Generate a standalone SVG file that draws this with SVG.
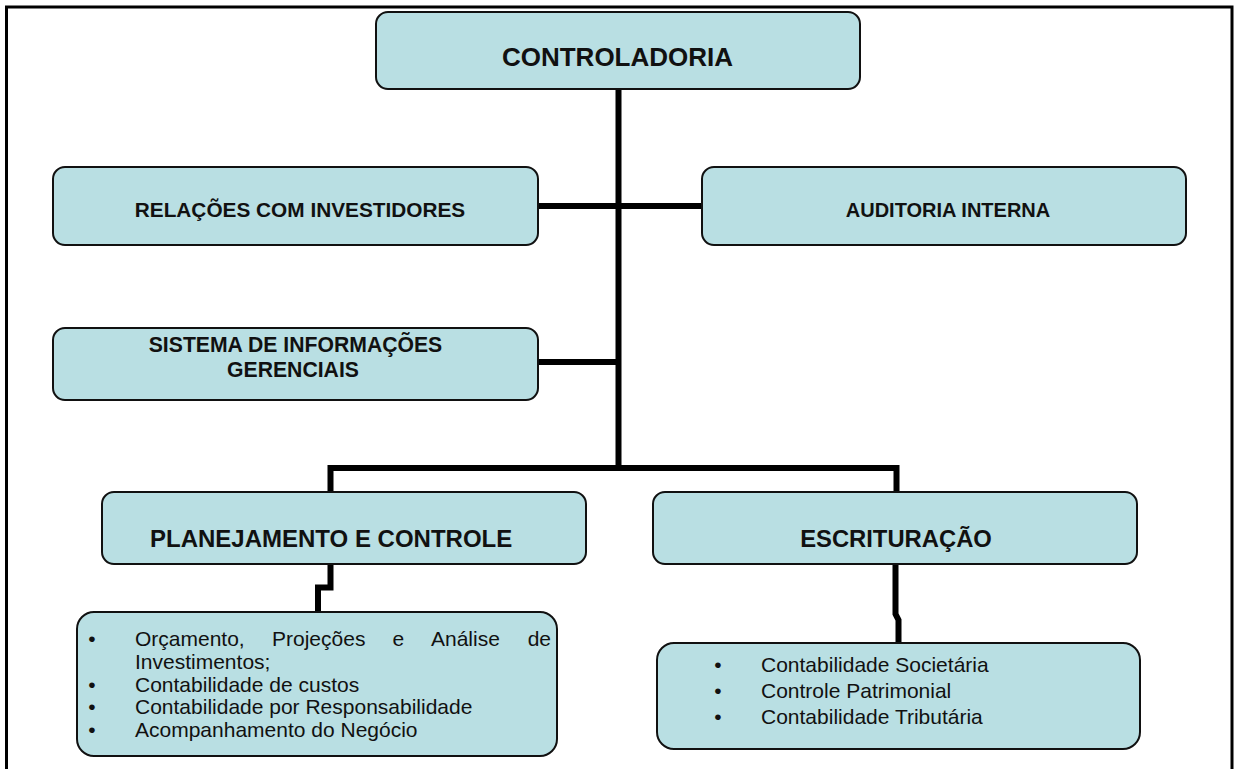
<svg xmlns="http://www.w3.org/2000/svg" width="1235" height="769" viewBox="0 0 1235 769">
<style>
.box{fill:#B9DFE3;stroke:#111;stroke-width:2}
.h{font-family:"Liberation Sans",Arial,sans-serif;font-weight:bold;fill:#111}
.t{font-family:"Liberation Sans",Arial,sans-serif;font-size:21px;fill:#111}
.c{fill:none;stroke:#000;stroke-width:6;stroke-linejoin:miter;stroke-linecap:butt}
</style>
<rect width="1235" height="769" fill="#fff"/>
<path d="M6.5,769 V7 H1232 V769" fill="none" stroke="#000" stroke-width="3"/>
<g id="connectors">
<path class="c" d="M618.5,89 V471"/>
<path class="c" d="M538,206 H702"/>
<path class="c" d="M538,362 H618"/>
<path class="c" d="M330.5,492 V468 H896.5 V492"/>
<path class="c" d="M330.5,564 V587.5 H318 V612"/>
<path class="c" d="M895.5,564 V614 L898.5,620 V643"/>
</g>
<g id="controladoria">
<rect class="box" x="376" y="12" width="484" height="77" rx="12"/>
<text class="h" x="617.5" y="66" font-size="26" text-anchor="middle">CONTROLADORIA</text>
</g>
<g id="relacoes">
<rect class="box" x="53" y="167" width="485" height="78" rx="12"/>
<text class="h" x="300" y="217" font-size="20.8" text-anchor="middle">RELAÇÕES COM INVESTIDORES</text>
</g>
<g id="auditoria">
<rect class="box" x="702" y="167" width="484" height="78" rx="12"/>
<text class="h" x="948" y="217" font-size="20" text-anchor="middle">AUDITORIA INTERNA</text>
</g>
<g id="sistema">
<rect class="box" x="53" y="328" width="485" height="72" rx="12"/>
<text class="h" x="295.5" y="352" font-size="21.2" text-anchor="middle">SISTEMA DE INFORMAÇÕES</text>
<text class="h" x="293" y="377" font-size="21.2" text-anchor="middle">GERENCIAIS</text>
</g>
<g id="planejamento">
<rect class="box" x="102" y="492" width="484" height="72" rx="12"/>
<text class="h" x="150" y="547" font-size="24">PLANEJAMENTO E CONTROLE</text>
</g>
<g id="escrituracao">
<rect class="box" x="653" y="492" width="484" height="72" rx="12"/>
<text class="h" x="896" y="547" font-size="23.8" text-anchor="middle">ESCRITURAÇÃO</text>
</g>
<g id="lista-planejamento">
<rect class="box" x="77" y="612" width="480" height="144" rx="17"/>
<text class="t" x="92" y="646" text-anchor="middle">•</text>
<text class="t" x="135" y="646">Orçamento,</text>
<text class="t" x="272" y="646">Projeções</text>
<text class="t" x="392.5" y="646">e</text>
<text class="t" x="431" y="646">Análise</text>
<text class="t" x="551" y="646" text-anchor="end">de</text>
<text class="t" x="135" y="669">Investimentos;</text>
<text class="t" x="92" y="691.5" text-anchor="middle">•</text>
<text class="t" x="135" y="691.5">Contabilidade de custos</text>
<text class="t" x="92" y="714" text-anchor="middle">•</text>
<text class="t" x="135" y="714">Contabilidade por Responsabilidade</text>
<text class="t" x="92" y="737" text-anchor="middle">•</text>
<text class="t" x="135" y="737">Acompanhamento do Negócio</text>
</g>
<g id="lista-escrituracao">
<rect class="box" x="657" y="643" width="483" height="106" rx="17"/>
<text class="t" x="718" y="672" text-anchor="middle">•</text>
<text class="t" x="761" y="672">Contabilidade Societária</text>
<text class="t" x="718" y="698" text-anchor="middle">•</text>
<text class="t" x="761" y="698">Controle Patrimonial</text>
<text class="t" x="718" y="724" text-anchor="middle">•</text>
<text class="t" x="761" y="724">Contabilidade Tributária</text>
</g>
</svg>
